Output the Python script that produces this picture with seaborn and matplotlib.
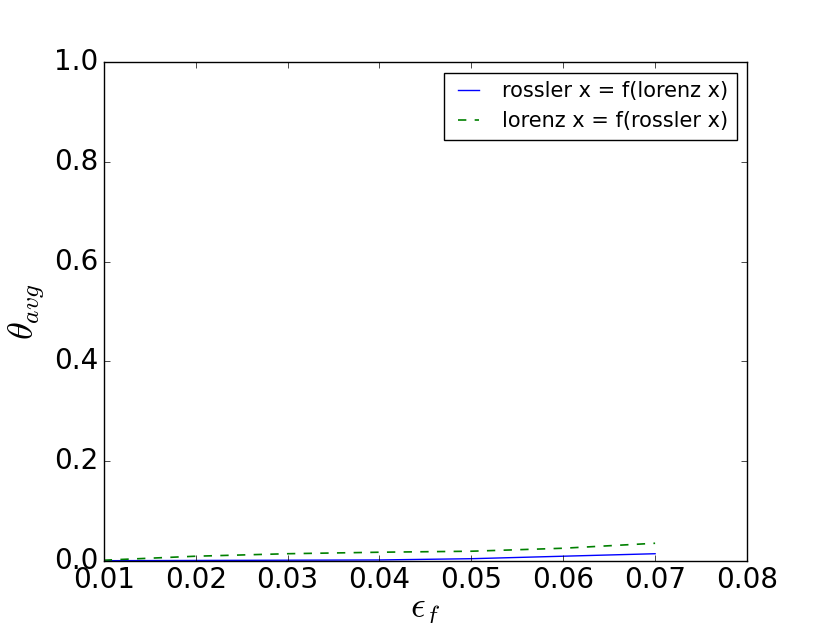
import matplotlib
matplotlib.use('Agg')
from matplotlib import pyplot as plt
import pandas as pd
import seaborn as sns

# coupling strength values
eps_f = [0.01, 0.02, 0.03, 0.04, 0.05, 0.06, 0.07]

# average angle for each direction
theta_rossler_from_lorenz = [0.0, 0.0005, 0.001, 0.0015, 0.004, 0.009, 0.014]
theta_lorenz_from_rossler = [0.001, 0.009, 0.014, 0.017, 0.019, 0.025, 0.035]

x_ticks = [0.01, 0.02, 0.03, 0.04, 0.05, 0.06, 0.07, 0.08]
y_ticks = [0.0, 0.2, 0.4, 0.6, 0.8, 1.0]

# Old matplotlib look
plt.style.use('classic')

df = pd.DataFrame({
    'eps': eps_f,
    'rl': theta_rossler_from_lorenz,
    'lr': theta_lorenz_from_rossler,
})

fig, ax = plt.subplots(figsize=(8.3, 6.23), dpi=100)
fig.patch.set_facecolor('white')

sns.lineplot(data=df, x='eps', y='rl', ax=ax, color='b', linewidth=1,
             label='rossler x = f(lorenz x)')
sns.lineplot(data=df, x='eps', y='lr', ax=ax, color='g', linewidth=1.2,
             linestyle='--', label='lorenz x = f(rossler x)')

ax.set_xlim(0.01, 0.08)
ax.set_ylim(0, 1)
ax.set_xticks(x_ticks)
ax.set_yticks(y_ticks)
ax.set_xticklabels([f'{t:.2f}' for t in x_ticks])
ax.set_yticklabels([f'{t:.1f}' for t in y_ticks])
ax.tick_params(labelsize=20)

ax.set_xlabel(r'$\epsilon_f$', fontsize=26, labelpad=2)
ax.set_ylabel(r'$\theta_{avg}$', fontsize=26)

ax.legend(loc='upper right', fontsize=15, handlelength=1.6)

plt.savefig('out.png', dpi=100, facecolor='white')
